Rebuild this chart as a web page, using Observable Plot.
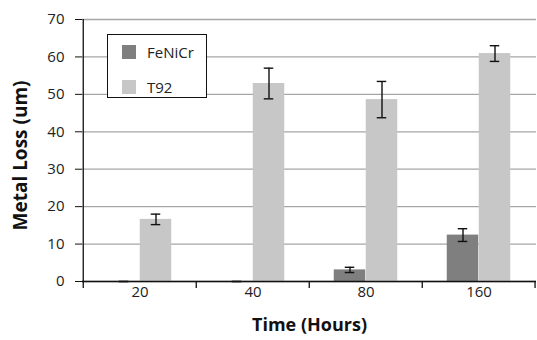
<!DOCTYPE html>
<html><head><meta charset="utf-8">
<script src="https://cdn.jsdelivr.net/npm/d3@7"></script>
<script src="https://cdn.jsdelivr.net/npm/@observablehq/plot@0.6"></script>
<style>
body{margin:0;background:#fff;font-family:"Open Sans",sans-serif}
#wrap{position:relative;width:537px;height:340px}
#legend{position:absolute;left:107px;top:34px;width:100px;height:64px;border:1.3px solid #111;background:#fff;box-sizing:border-box}
.item{position:absolute;left:14px;display:flex;align-items:center;font-size:15px;color:#222}
.sw{width:14px;height:14px;margin-right:11px}
</style></head><body><div id="wrap"><div id="legend"></div></div>
<script>
const times = ["20", "40", "80", "160"];
const series = ["FeNiCr", "T92"];
const feNiCr = [0, 0, 3.1, 12.4];
const feNiCrErr = [0, 0, 0.7, 1.7];
const t92 = [16.6, 52.9, 48.6, 60.9];
const t92Err = [1.4, 4.1, 4.85, 2.1];
const yTicks = [0, 10, 20, 30, 40, 50, 60, 70];
const colors = ["#7f7f7f", "#c6c7c6"];

const W = 537, H = 340, ML = 82, MR = 1, MT = 19, MB = 59;
const bw = (W - ML - MR) / times.length;
const barW = 32, capW = 10;

const rows = [];
times.forEach((t, i) => {
  rows.push({time: t, series: series[0], value: feNiCr[i], err: feNiCrErr[i]});
  rows.push({time: t, series: series[1], value: t92[i], err: t92Err[i]});
});
const s0 = rows.filter(d => d.series === series[0]);
const s1 = rows.filter(d => d.series === series[1]);

const half = bw / 2;
function seriesMarks(data, color, side) {
  const barInsetL = side < 0 ? half - barW : half;
  const barInsetR = side < 0 ? half : half - barW;
  const c = side * barW / 2;
  return [
    Plot.barY(data, {x: "time", y: "value", fill: color, insetLeft: barInsetL, insetRight: barInsetR}),
    Plot.ruleX(data, {x: "time", y1: d => d.value - d.err, y2: d => d.value + d.err, dx: c, stroke: "#111", strokeWidth: 1.4}),
    Plot.tickY(data, {x: "time", y: d => d.value + d.err, stroke: "#111", strokeWidth: 1.4, insetLeft: half + c - capW / 2, insetRight: half - c - capW / 2}),
    Plot.tickY(data, {x: "time", y: d => d.value - d.err, stroke: "#111", strokeWidth: 1.4, insetLeft: half + c - capW / 2, insetRight: half - c - capW / 2})
  ];
}

const chart = Plot.plot({
  width: W, height: H, marginLeft: ML, marginRight: MR, marginTop: MT, marginBottom: MB,
  x: {domain: times, padding: 0},
  y: {domain: [0, 70]},
  style: {fontFamily: "Open Sans", fontSize: "15px", color: "#222", background: "transparent"},
  marks: [
    Plot.gridY(yTicks, {stroke: "#a6a6a6", strokeOpacity: 1, strokeWidth: 1.3}),
    ...seriesMarks(s0, colors[0], -1),
    ...seriesMarks(s1, colors[1], 1),
    Plot.ruleY([0], {stroke: "#111", strokeWidth: 1.3}),
    Plot.ruleX([times[0]], {x: d => d, dx: -half, y1: 0, y2: 70, stroke: "#111", strokeWidth: 1.3}),
    Plot.ruleX(times, {x: d => d, dx: -half, y1: 0, y2: 0, insetBottom: -7, stroke: "#111", strokeWidth: 1.3}),
    Plot.ruleX([times[times.length - 1]], {x: d => d, dx: half - 0.7, y1: 0, y2: 0, insetBottom: -7, stroke: "#111", strokeWidth: 1.3}),
    Plot.axisY(yTicks, {tickSize: 7, tickPadding: 11, stroke: "#111", fontSize: 15, label: null}),
    Plot.axisX({tickSize: 0, tickPadding: 5, fontSize: 15, label: null}),
    Plot.text(["Time (Hours)"], {frameAnchor: "bottom", dy: 49, fontWeight: "bold", fontSize: 18, fill: "#111"}),
    Plot.text(["Metal Loss (um)"], {frameAnchor: "left", textAnchor: "middle", dx: -62, dy: 5, rotate: -90, fontWeight: "bold", fontSize: 19, fill: "#111"})
  ]
});
const wrap = document.getElementById("wrap");
wrap.insertBefore(chart, wrap.firstChild);

const legend = document.getElementById("legend");
series.forEach((s, i) => {
  const it = document.createElement("div");
  it.className = "item";
  it.style.top = (i === 0 ? 7 : 42) + "px";
  it.innerHTML = `<span class="sw" style="background:${colors[i]}"></span><span>${s}</span>`;
  legend.appendChild(it);
});
</script></body></html>
